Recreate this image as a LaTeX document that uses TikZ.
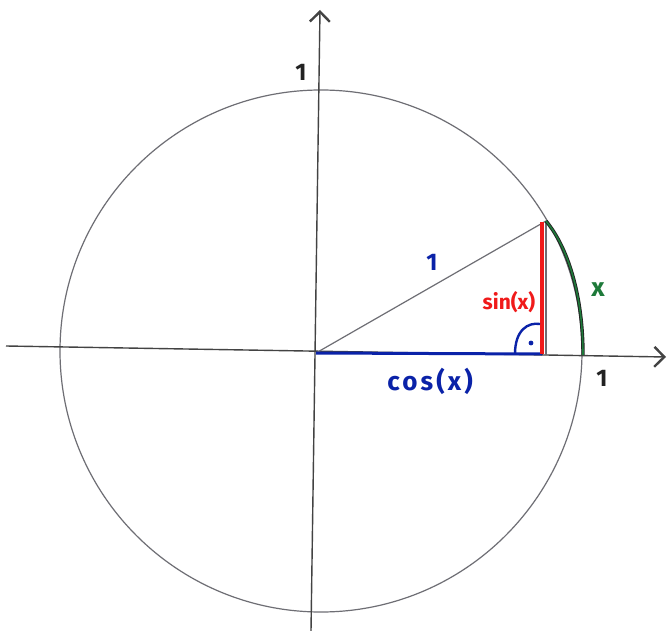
\documentclass[tikz,border=0pt]{standalone}
\usepackage{fontspec}
\setmainfont{Fira Sans}
\usetikzlibrary{arrows.meta}
\definecolor{pen}{HTML}{222222}
\definecolor{pencil}{HTML}{6E6E74}
\definecolor{bluepen}{HTML}{0A22A8}
\definecolor{redpen}{HTML}{F01A1A}
\definecolor{greenpen}{HTML}{1E7A3A}
\tikzset{
  axis/.style={draw=pen!85, line width=1.4pt, -{Straight Barb[length=10pt,width=20pt,line width=2.4pt]}},
  circ/.style={draw=pencil, line width=1.2pt},
  lbl/.style={inner sep=0pt, font=\bfseries\fontsize{24}{24}\selectfont},
}
\begin{document}
\begin{tikzpicture}[x=1pt,y=-1pt]
\useasboundingbox (0,0) rectangle (669,631);
\fill[white] (0,0) rectangle (669,631);
% coordinates
\coordinate (L) at (6,346);
\coordinate (R) at (666,357);
\coordinate (B) at (311,631);
\coordinate (T) at (320,10);
\coordinate (C) at (321,351);
\coordinate (O) at (316,353);
\coordinate (P) at (546,221);
\coordinate (F) at (546,355);
\coordinate (Fr) at (542,354);
\coordinate (Pr) at (542,222);
\coordinate (E) at (583,355);
% circle
\draw[circ] (C) circle (261);
% axes
\draw[axis] (L) -- (R);
\draw[axis] (B) -- (T);
% hypotenuse and pencil sine
\draw[pencil, line width=1.2pt] (O) -- (P);
\draw[pencil, line width=1.2pt] (P) -- (F);
% cos
\draw[bluepen, line width=3pt] (O) -- (Fr);
% sin
\draw[redpen, line width=3.2pt] (Fr) -- (Pr);
% arc x
\draw[pen, line width=3.4pt] (P) .. controls (570,250) and (583,300) .. (E);
\draw[greenpen, line width=1.6pt] (P) .. controls (570,250) and (583,300) .. (E);
% right angle
\draw[bluepen, line width=2.4pt] (515,354) .. controls (515,330) and (528,322) .. (540,324);
\fill[bluepen] (531,343) circle (2.4);
% labels
\node[lbl, text=pen] (l1) at (301,72) {1};
\node[lbl, text=pen] (l2) at (602,378) {1};
\node[lbl, text=bluepen] (l3) at (432,262) {1};
\node[lbl, text=redpen, font=\bfseries\fontsize{21}{21}\selectfont] (ls) at (509,302) {sin(x)};
\node[lbl, text=bluepen, font=\bfseries\fontsize{26}{26}\selectfont\addfontfeature{LetterSpace=12}] (lc) at (430,381) {cos(x)};
\node[lbl, text=greenpen, font=\bfseries\fontsize{26}{26}\selectfont] (lx) at (598,290) {x};
\end{tikzpicture}
\end{document}
